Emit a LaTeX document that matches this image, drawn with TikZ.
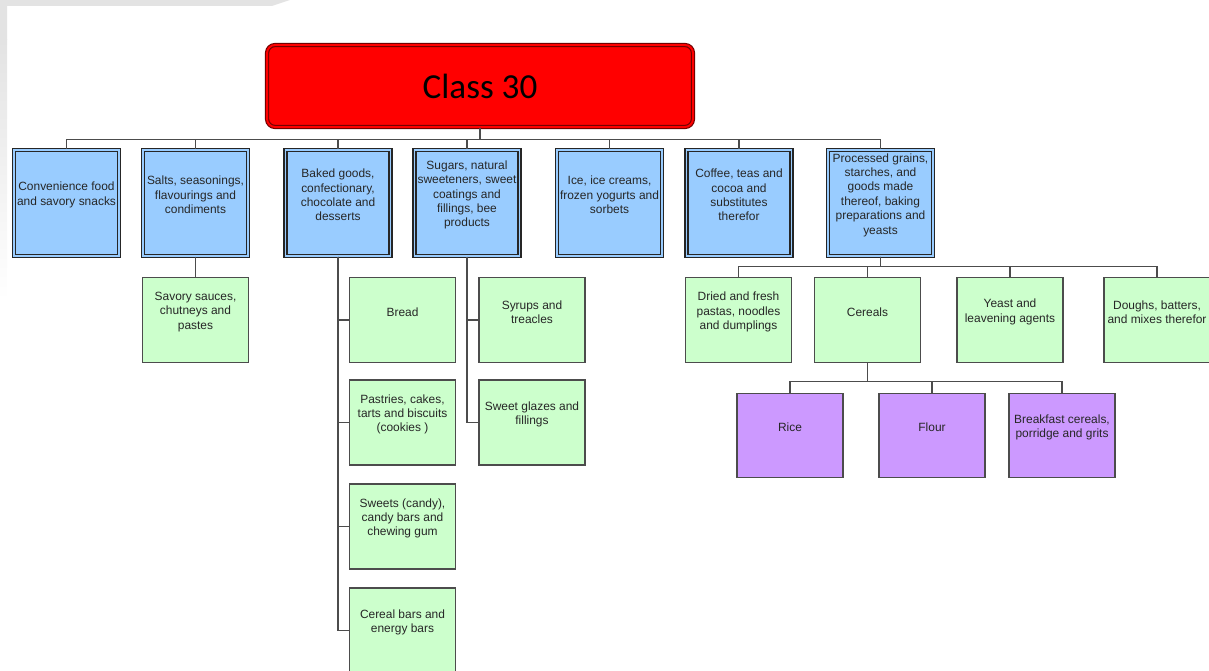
\documentclass[tikz,border=0pt]{standalone}
\usepackage{fontspec}
\setmainfont{Liberation Sans}
\newfontfamily\titlefont{Carlito}
\usepackage{tikz}
\usepackage{xcolor}
\definecolor{cat blue}{HTML}{99CCFF}
\definecolor{sub green}{HTML}{CCFFCC}
\definecolor{leaf purple}{HTML}{CC99FF}
\definecolor{shade gray}{HTML}{E3E3E3}
\colorlet{line gray}{black!70}
\tikzset{
	link/.style={draw=line gray, line width=0.6pt},
	boxtext/.style={align=center, text=black!85, font=\fontsize{6.8}{8.2}\selectfont, inner sep=0pt, yshift=0.16cm},
	catbox/.style={draw=black!85, line width=0.65pt, double=cat blue, double distance=1.1pt, fill=cat blue, minimum width=2.1cm, minimum height=2.12cm, label={[boxtext]center:{#1}}},
	subbox/.style={draw=line gray, line width=0.65pt, fill=sub green, minimum width=2.12cm, minimum height=1.7cm, label={[boxtext]center:{#1}}},
	leafbox/.style={draw=line gray, line width=0.65pt, fill=leaf purple, minimum width=2.12cm, minimum height=1.68cm, label={[boxtext]center:{#1}}}
}

\begin{document}
\begin{tikzpicture}[x=0.02cm, y=-0.02cm]
			\useasboundingbox (0,0) rectangle (1209,671);
			\fill[shade gray] (0,0) -- (290,0) -- (272,6) -- (7,6) -- (7,40) -- (0,40) -- cycle;
			\shade[top color=shade gray, bottom color=white] (0,40) rectangle (7,300);
			\node[draw=red!45!black, line width=0.65pt, double=red, double distance=1.1pt, fill=red, rounded corners=0.16cm, minimum width=8.52cm, minimum height=1.64cm, font=\titlefont\fontsize{20}{24}\selectfont] (class) at (480,86) {Class 30};
			\node[catbox={Convenience food\\and savory snacks}] (conv) at (66.5,203) {};
			\node[catbox={Salts, seasonings,\\flavourings and\\condiments}] (salts) at (195.5,203) {};
			\node[catbox={Baked goods,\\confectionary,\\chocolate and\\desserts}] (baked) at (338,203) {};
			\node[catbox={Sugars, natural\\sweeteners, sweet\\coatings and\\fillings, bee\\products}] (sugars) at (467,203) {};
			\node[catbox={Ice, ice creams,\\frozen yogurts and\\sorbets}] (ice) at (609.5,203) {};
			\node[catbox={Coffee, teas and\\cocoa and\\substitutes\\therefor}] (coffee) at (739,203) {};
			\node[catbox={Processed grains,\\starches, and\\goods made\\thereof, baking\\preparations and\\yeasts}] (grains) at (880.5,203) {};
			\node[subbox={Savory sauces,\\chutneys and\\pastes}] (sauces) at (195.5,320) {};
			\node[subbox={Bread}] (bread) at (402.5,320) {};
			\node[subbox={Pastries, cakes,\\tarts and biscuits\\(cookies )}] (pastry) at (402.5,422.5) {};
			\node[subbox={Sweets (candy),\\candy bars and\\chewing gum}] (sweets) at (402.5,526.5) {};
			\node[subbox={Cereal bars and\\energy bars}] (cbars) at (402.5,630.5) {};
			\node[subbox={Syrups and\\treacles}] (syrups) at (532,320) {};
			\node[subbox={Sweet glazes and\\fillings}] (glazes) at (532,422.5) {};
			\node[subbox={Dried and fresh\\pastas, noodles\\and dumplings}] (pasta) at (738.5,320) {};
			\node[subbox={Cereals}] (cereals) at (867.5,320) {};
			\node[subbox={Yeast and\\leavening agents}] (yeast) at (1010,320) {};
			\node[subbox={Doughs, batters,\\and mixes therefor}] (doughs) at (1157,320) {};
			\node[leafbox={Rice}] (rice) at (790,435.5) {};
			\node[leafbox={Flour}] (flour) at (932,435.5) {};
			\node[leafbox={Breakfast cereals,\\porridge and grits}] (breakfast) at (1062,435.5) {};
			\draw[link] (class.south) -- ++(0,12) -| (conv.north);
			\draw[link] (class.south) -- ++(0,12) -| (salts.north);
			\draw[link] (class.south) -- ++(0,12) -| (baked.north);
			\draw[link] (class.south) -- ++(0,12) -| (sugars.north);
			\draw[link] (class.south) -- ++(0,12) -| (ice.north);
			\draw[link] (class.south) -- ++(0,12) -| (coffee.north);
			\draw[link] (class.south) -- ++(0,12) -| (grains.north);
			\draw[link] (salts.south) -- (sauces.north);
			\draw[link] (baked.south) |- (bread.west);
			\draw[link] (baked.south) |- (pastry.west);
			\draw[link] (baked.south) |- (sweets.west);
			\draw[link] (baked.south) |- (cbars.west);
			\draw[link] (sugars.south) |- (syrups.west);
			\draw[link] (sugars.south) |- (glazes.west);
			\draw[link] (grains.south) -- ++(0,9.5) -| (pasta.north);
			\draw[link] (grains.south) -- ++(0,9.5) -| (cereals.north);
			\draw[link] (grains.south) -- ++(0,9.5) -| (yeast.north);
			\draw[link] (grains.south) -- ++(0,9.5) -| (doughs.north);
			\draw[link] (cereals.south) -- ++(0,18.5) -| (rice.north);
			\draw[link] (cereals.south) -- ++(0,18.5) -| (flour.north);
			\draw[link] (cereals.south) -- ++(0,18.5) -| (breakfast.north);
		\end{tikzpicture}
\end{document}
